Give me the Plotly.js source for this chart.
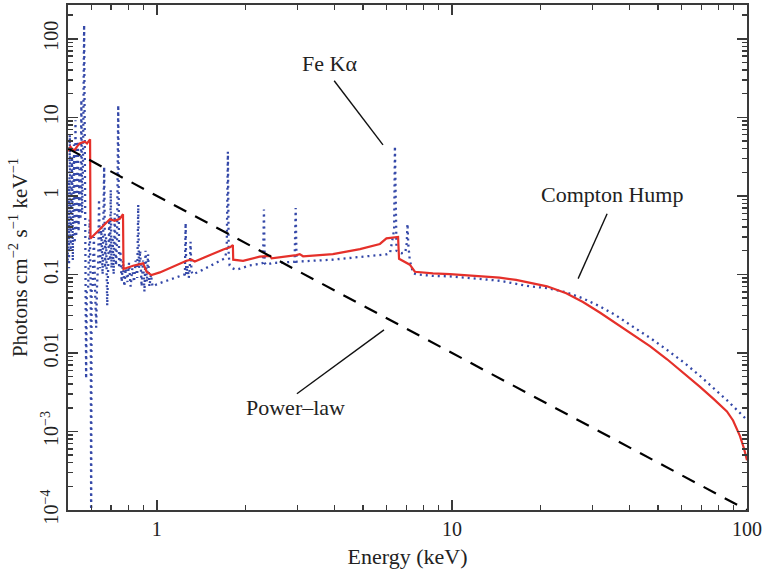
<!DOCTYPE html>
<html>
<head>
<meta charset="utf-8">
<script src="https://cdn.plot.ly/plotly-3.0.1.min.js"></script>
<style>html,body{margin:0;padding:0;background:#fff;}#chart{width:765px;height:573px;}</style>
</head>
<body>
<div id="chart"></div>
<script>
// Power-law component (dashed)
const powE = [0.5, 100];
const powF = [4.0, 0.0001];

// Blurred reflection (red solid)
const redE = [0.499, 0.505, 0.51, 0.518, 0.527, 0.538, 0.548, 0.56, 0.57, 0.58, 0.594, 0.596, 0.608, 0.658, 0.693, 0.72, 0.749, 0.768, 0.771, 0.831, 0.899, 0.923, 0.959, 1.024, 1.26, 1.31, 1.345, 1.68, 1.77, 1.81, 1.815, 1.96, 2.23, 2.42, 2.45, 2.97, 3.05, 3.13, 3.95, 4.88, 5.70, 6.0, 6.57, 6.62, 7.2, 7.49, 8.62, 9.84, 12.4, 14.5, 16.5, 18.4, 21.0, 24.4, 27.8, 31.8, 36.0, 41.1, 47.0, 53.6, 61.0, 69.3, 77.0, 85.5, 89.7, 94.6, 97.5, 100];
const redF = [3.72, 4.0, 4.2, 3.9, 3.85, 4.3, 4.65, 4.8, 4.9, 4.65, 5.25, 0.287, 0.31, 0.415, 0.505, 0.48, 0.51, 0.583, 0.117, 0.129, 0.138, 0.108, 0.098, 0.106, 0.149, 0.154, 0.146, 0.208, 0.221, 0.236, 0.154, 0.149, 0.168, 0.172, 0.160, 0.176, 0.181, 0.170, 0.181, 0.21, 0.244, 0.287, 0.30, 0.158, 0.133, 0.108, 0.103, 0.101, 0.096, 0.091, 0.085, 0.078, 0.0705, 0.0575, 0.0445, 0.0325, 0.0238, 0.0172, 0.0121, 0.0083, 0.0056, 0.0037, 0.0026, 0.0018, 0.00138, 0.00088, 0.00062, 0.00043];

// Unblurred reflection with emission lines (blue dotted)
const blueE = [
  0.499, 0.502, 0.504, 0.507, 0.510, 0.513, 0.516, 0.519, 0.521, 0.524, 0.527, 0.530,
  0.533, 0.537, 0.540, 0.543, 0.547, 0.551, 0.553, 0.555, 0.558, 0.562, 0.567, 0.571,
  0.574, 0.576, 0.579, 0.585, 0.592, 0.597, 0.599, 0.601, 0.606, 0.612, 0.618, 0.623, 0.627,
  0.633, 0.637, 0.642, 0.648, 0.655, 0.663, 0.668, 0.673, 0.679, 0.684, 0.690, 0.694,
  0.698, 0.702, 0.708, 0.714, 0.720, 0.727, 0.733, 0.740, 0.745, 0.752, 0.760, 0.768,
  0.776, 0.785, 0.795, 0.805, 0.815, 0.826, 0.837, 0.848, 0.858, 0.865, 0.870, 0.878,
  0.888, 0.898, 0.908, 0.916, 0.925, 0.934, 0.944, 0.955, 0.967,
  1.0, 1.05, 1.104, 1.15, 1.20, 1.245, 1.252, 1.258, 1.27, 1.283, 1.293, 1.301, 1.31, 1.322,
  1.396, 1.5, 1.6, 1.675, 1.70, 1.725, 1.741, 1.752, 1.765, 1.80, 1.85, 1.909,
  2.063, 2.2, 2.29, 2.307, 2.32, 2.338, 2.475, 2.7, 2.93, 2.955, 2.975, 3.05,
  3.5, 3.956, 4.6, 5.41, 6.0, 6.17, 6.30, 6.37, 6.41, 6.45, 6.49, 6.62,
  6.75, 6.95, 7.03, 7.07, 7.11, 7.20, 7.39, 7.6, 8.64, 9.84, 12.4, 14.5,
  18.4, 21.0, 24.4, 27.8, 31.8, 36.0, 41.1, 47.0, 53.6, 61.0, 69.3, 77.0, 85.5, 89.7, 94.6, 100];
const blueF = [
  0.15, 1.6, 0.12, 6.0, 0.2, 0.9, 3.2, 0.15, 1.2, 4.5, 0.25, 9.2,
  0.3, 1.8, 5.0, 0.35, 2.2, 0.5, 1.5, 16.6, 0.6, 2.5, 150, 0.3,
  0.06, 0.0047, 0.06, 0.065, 0.5, 0.06, 0.00005, 0.06, 0.07, 0.3, 0.06, 0.021, 0.07,
  0.15, 0.9, 0.12, 0.4, 0.1, 2.35, 0.12, 0.3, 0.04, 0.12, 0.5, 0.15,
  1.19, 0.12, 0.3, 0.1, 0.6, 0.13, 0.25, 14.3, 0.12, 0.2, 0.08, 0.15,
  0.07, 0.12, 0.08, 0.14, 0.07, 0.12, 0.08, 0.15, 0.09, 0.77, 0.12, 0.2,
  0.07, 0.15, 0.06, 0.2, 0.08, 0.18, 0.07, 0.1, 0.07,
  0.075, 0.08, 0.085, 0.09, 0.095, 0.10, 0.45, 0.10, 0.13, 0.09, 0.12, 0.26, 0.11, 0.10,
  0.109, 0.125, 0.14, 0.153, 0.16, 0.20, 3.65, 0.18, 0.13, 0.12, 0.115, 0.118,
  0.13, 0.135, 0.14, 0.67, 0.14, 0.133, 0.14, 0.142, 0.145, 0.70, 0.145, 0.146,
  0.15, 0.154, 0.163, 0.172, 0.18, 0.186, 0.30, 0.37, 4.3, 0.4, 0.20, 0.19,
  0.186, 0.19, 0.25, 0.44, 0.25, 0.15, 0.1035, 0.10, 0.0955, 0.0945, 0.0876, 0.083,
  0.0703, 0.067, 0.059, 0.0495, 0.039, 0.030, 0.0215, 0.0155, 0.0109, 0.0076, 0.0051, 0.0036, 0.0025, 0.0021, 0.00172, 0.0014];

// Axis ticks
const yTickVals = [1e-4, 1e-3, 0.01, 0.1, 1, 10, 100];
const yTickText = ['10<sup>\u22124</sup>', '10<sup>\u22123</sup>', '0.01', '0.1', '1', '10', '100'];
const xTickVals = [1, 10, 100];
const xTickText = ['1', '10', '100'];

// Annotation labels
const labels = ['Fe K\u03b1', 'Compton Hump', 'Power\u2013law'];

const FONT = '"Liberation Serif", "Times New Roman", serif';
const AX = '#3a3a3a';

const traces = [
  {x: blueE, y: blueF, mode: 'lines', line: {color: '#3448a8', width: 2.3, dash: '2px,4px'}, hoverinfo: 'skip'},
  {x: redE, y: redF, mode: 'lines', line: {color: '#e5302a', width: 2.2}, hoverinfo: 'skip'},
  {x: powE, y: powF, mode: 'lines', line: {color: '#000', width: 2.2, dash: '14px,10px'}, hoverinfo: 'skip'}
];

const axisCommon = {
  showgrid: false, zeroline: false, showline: true, linecolor: AX, linewidth: 2,
  mirror: 'allticks', ticks: 'inside', ticklen: 10, tickwidth: 1.6, tickcolor: AX,
  tickfont: {family: FONT, size: 20, color: '#222'},
  minor: {ticks: 'inside', ticklen: 5, tickwidth: 1.4, tickcolor: AX, dtick: 'D1', showgrid: false}
};

const annFont = {family: FONT, size: 22, color: '#222'};

const layout = {
  width: 765, height: 573,
  margin: {l: 68, r: 18, t: 5, b: 63},
  paper_bgcolor: '#fff', plot_bgcolor: '#fff',
  showlegend: false,
  font: {family: FONT, color: '#222'},
  xaxis: Object.assign({}, axisCommon, {
    type: 'log', range: [Math.log10(0.5), 2],
    tickmode: 'array', tickvals: xTickVals, ticktext: xTickText,
    title: {text: 'Energy (keV)', font: {family: FONT, size: 22, color: '#222'}, standoff: 10}
  }),
  yaxis: Object.assign({}, axisCommon, {
    type: 'log', range: [-4, 2.43],
    tickmode: 'array', tickvals: yTickVals, ticktext: yTickText, tickangle: -90,
    title: {text: 'Photons cm<sup>\u22122</sup> s<sup>\u22121</sup> keV<sup>\u22121</sup>', font: {family: FONT, size: 21, color: '#222'}, standoff: 4}
  }),
  annotations: [
    {xref: 'paper', yref: 'paper', x: 0.3858, y: 0.885, xanchor: 'center', yanchor: 'middle', text: labels[0], showarrow: false, font: annFont},
    {xref: 'paper', yref: 'paper', x: 0.8015, y: 0.6244, xanchor: 'center', yanchor: 'middle', text: labels[1], showarrow: false, font: annFont},
    {xref: 'paper', yref: 'paper', x: 0.3356, y: 0.2027, xanchor: 'center', yanchor: 'middle', text: labels[2], showarrow: false, font: annFont}
  ],
  shapes: [
    {type: 'line', xref: 'paper', yref: 'paper', x0: 0.392, y0: 0.850, x1: 0.4639, y1: 0.723, line: {color: '#111', width: 1.4}},
    {type: 'line', xref: 'paper', yref: 'paper', x0: 0.7940, y0: 0.5868, x1: 0.7513, y1: 0.4581, line: {color: '#111', width: 1.4}},
    {type: 'line', xref: 'paper', yref: 'paper', x0: 0.3371, y0: 0.2302, x1: 0.4654, y1: 0.3568, line: {color: '#111', width: 1.4}}
  ]
};

Plotly.newPlot('chart', traces, layout, {displayModeBar: false, staticPlot: true});
</script>
</body>
</html>
